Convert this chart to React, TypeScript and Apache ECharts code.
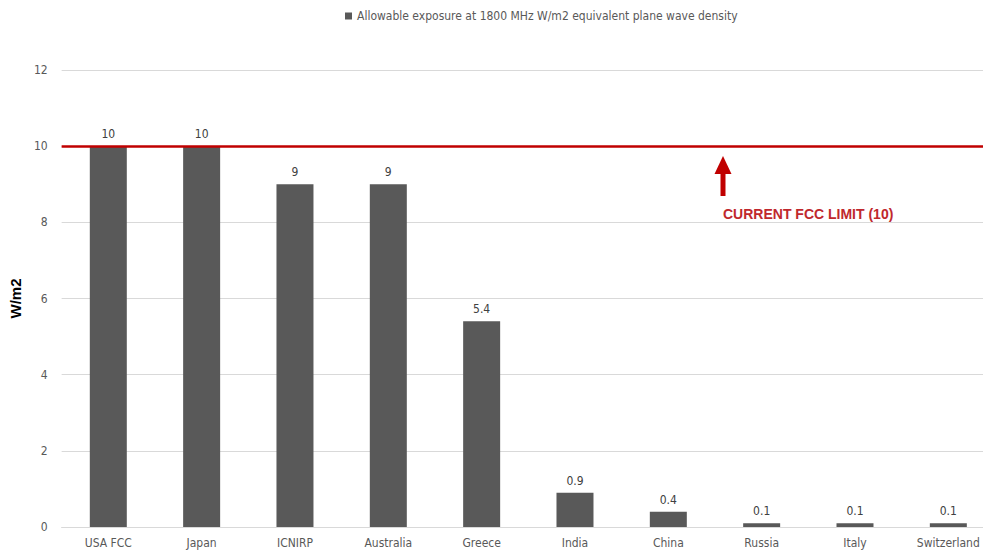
import React, { useEffect, useRef } from "react";
import * as echarts from "echarts";

const categories = ["USA FCC", "Japan", "ICNIRP", "Australia", "Greece", "India", "China", "Russia", "Italy", "Switzerland"];
const values = [10, 10, 9, 9, 5.4, 0.9, 0.4, 0.1, 0.1, 0.1];
const seriesName = "Allowable exposure at 1800 MHz W/m2 equivalent plane wave density";
const limitValue = 10;
const limitLabel = "CURRENT FCC LIMIT (10)";

const FONT = "'Liberation Sans Narrow', 'DejaVu Sans Condensed', sans-serif";

export default function App() {
  const ref = useRef<HTMLDivElement>(null);
  useEffect(() => {
    if (!ref.current) return;
    const chart = echarts.init(ref.current, undefined, { renderer: "svg" });
    chart.setOption({
      animation: false,
      backgroundColor: "#ffffff",
      textStyle: { fontFamily: FONT },
      legend: {
        top: 5,
        left: 340,
        itemWidth: 7,
        itemHeight: 7,
        icon: "rect",
        itemGap: 4,
        textStyle: { fontSize: 12, color: "#595959", fontFamily: FONT },
        data: [seriesName],
      },
      grid: { left: 58, right: 0, top: 70, bottom: 26, containLabel: false },
      xAxis: {
        type: "category",
        data: categories,
        axisLine: { show: true, lineStyle: { color: "#d9d9d9" } },
        axisTick: { show: false },
        axisLabel: { color: "#595959", fontSize: 12, margin: 10, fontFamily: FONT },
      },
      yAxis: {
        type: "value",
        min: 0,
        max: 12,
        interval: 2,
        name: "W/m2",
        nameLocation: "middle",
        nameGap: 30,
        nameRotate: 90,
        nameTextStyle: { fontWeight: "bold", fontSize: 15, color: "#000", fontFamily: "'Liberation Sans', sans-serif" },
        axisLine: { show: false },
        axisTick: { show: false },
        axisLabel: { color: "#595959", fontSize: 12, margin: 14, fontFamily: FONT },
        splitLine: { lineStyle: { color: "#d9d9d9", width: 1 } },
      },
      series: [
        {
          name: seriesName,
          type: "bar",
          data: values,
          barWidth: 37,
          itemStyle: { color: "#595959" },
          label: {
            show: true,
            position: "top",
            distance: 6,
            color: "#404040",
            fontSize: 12,
            fontFamily: FONT,
          },
          markLine: {
            silent: true,
            symbol: "none",
            label: { show: false },
            lineStyle: { color: "#c00000", width: 2.5, type: "solid" },
            data: [{ yAxis: limitValue }],
          },
          z: 2,
        },
      ],
      graphic: [
        {
          type: "rect",
          shape: { x: 720.5, y: 171, width: 5, height: 25 },
          style: { fill: "#c00000" },
        },
        {
          type: "polygon",
          shape: { points: [[714.5, 174], [723, 156], [731.5, 174]] },
          style: { fill: "#c00000" },
        },
        {
          type: "rect",
          shape: { x: 713, y: 203, width: 190, height: 22 },
          style: { fill: "#ffffff" },
        },
        {
          type: "text",
          x: 723,
          y: 214,
          style: {
            text: limitLabel,
            fill: "#c0282d",
            fontSize: 14,
            fontWeight: "bold",
            fontFamily: "'Liberation Sans', sans-serif",
            verticalAlign: "middle",
          },
        },
      ],
    });
    return () => chart.dispose();
  }, []);
  return (
    <div
      style={{ position: "fixed", left: 0, top: 0, width: 983, height: 553, overflow: "hidden", background: "#fff" }}
    >
      <div ref={ref} style={{ width: 995, height: 553 }} />
    </div>
  );
}
